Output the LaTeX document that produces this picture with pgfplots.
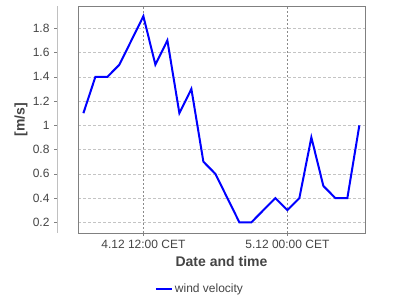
\documentclass[border=0pt]{standalone}
\usepackage{pgfplots}
\pgfplotsset{compat=1.18}
\usepackage{fontspec}
\setmainfont{Liberation Sans}
\definecolor{txt}{HTML}{444444}
\definecolor{hgrid}{HTML}{C4C4C4}
\definecolor{vgrid}{HTML}{8A8A8A}
\definecolor{frame}{HTML}{808080}
\definecolor{yline}{HTML}{C0C0C0}
\begin{document}
\begin{tikzpicture}[x=1pt,y=1pt]
\useasboundingbox (0,0) rectangle (400,300);
% separated y axis
\begin{axis}[
  at={(57pt,67pt)}, anchor=south west, scale only axis,
  width=10pt, height=227pt,
  xmin=0, xmax=1, ymin=0.112, ymax=1.984,
  axis x line=none, axis y line=left,
  axis line style={-, draw=yline, line width=0.8pt},
  ytick={0.2,0.4,...,1.8},
  yticklabels={0.2,0.4,0.6,0.8,1,1.2,1.4,1.6,1.8},
  tick align=outside, major tick length=3pt,
  ytick style={draw=frame, line width=0.6pt},
  tick label style={font=\fontsize{12}{14}\selectfont, text=txt},
  /pgf/number format/assume math mode=true,
  yticklabel style={xshift=-1pt},
  ylabel={[m/s]},
  ylabel style={at={(axis description cs:0,0.5)}, anchor=center, rotate=0, yshift=36pt, font=\bfseries\fontsize{14}{16}\selectfont, text=txt},
]
\end{axis}
% main axis
\begin{axis}[
  at={(78pt,67pt)}, anchor=south west, scale only axis,
  width=287pt, height=227pt,
  xmin=6.55, xmax=30.47, ymin=0.112, ymax=1.984,
  axis line style={draw=frame, line width=0.8pt},
  xtick={12,24},
  xticklabels={4.12 12:00 CET, 5.12 00:00 CET},
  ytick={0.2,0.4,...,1.8}, yticklabels={},
  ytick style={draw=none},
  xtick style={draw=frame, line width=0.6pt},
  tick align=outside, major tick length=3pt,
  xtick pos=bottom,
  tick label style={font=\fontsize{12}{14}\selectfont, text=txt},
  xticklabel style={yshift=-1pt},
  xmajorgrids, ymajorgrids,
  x grid style={draw=vgrid, line width=0.6pt, dash pattern=on 2pt off 2pt},
  y grid style={draw=hgrid, line width=0.6pt, dash pattern=on 3pt off 2pt},
  xlabel={Date and time},
  xlabel style={at={(axis description cs:0.5,0)}, anchor=center, yshift=-28pt, font=\bfseries\fontsize{14}{16}\selectfont, text=txt},
  legend style={at={(axis description cs:0.425,-0.2454)}, anchor=center, draw=none, fill=none, font=\fontsize{12}{14}\selectfont, text=txt, inner sep=0pt},
  legend image code/.code={\draw[#1, line width=2pt] (0pt,0pt) -- (16pt,0pt);},
]
\addplot[color={rgb,255:red,0;green,0;blue,255}, line width=2pt, mark=none] table {
x y
7 1.1
8 1.4
9 1.4
10 1.5
11 1.7
12 1.9
13 1.5
14 1.7
15 1.1
16 1.3
17 0.7
18 0.6
19 0.4
20 0.2
21 0.2
22 0.3
23 0.4
24 0.3
25 0.4
26 0.9
27 0.5
28 0.4
29 0.4
30 1.0
};
\addlegendentry{wind velocity}
\end{axis}
\end{tikzpicture}
\end{document}
